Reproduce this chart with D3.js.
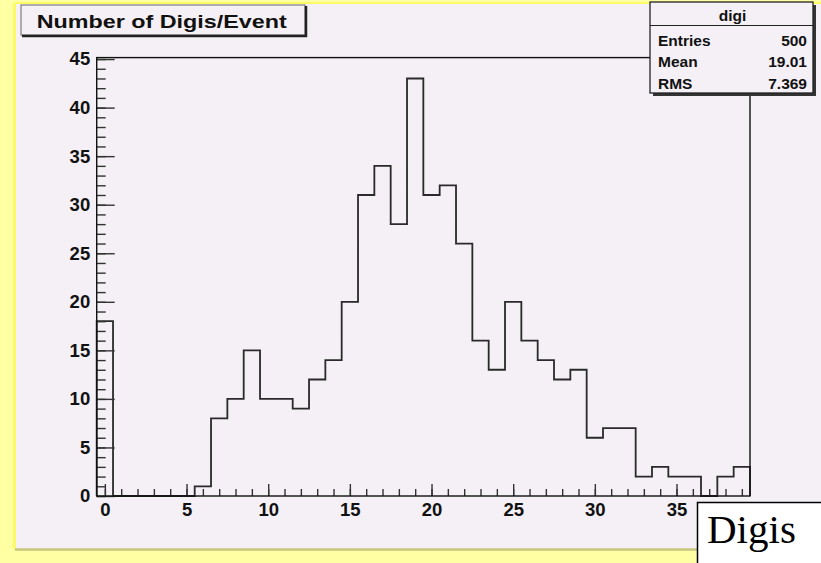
<!DOCTYPE html>
<html>
<head>
<meta charset="utf-8">
<script src="https://cdn.jsdelivr.net/npm/d3@7"></script>
<style>
  body { margin: 0; background: #ffffa4; }
</style>
</head>
<body>
<svg id="chart" width="821" height="563"></svg>
<script>
// Histogram "digi": number of digis per event, 40 unit-wide bins centred on 0..39
const binCenters = d3.range(0, 40);
const counts = [18, 0, 0, 0, 0, 0, 1, 8, 10, 15,
                10, 10, 9, 12, 14, 20, 31, 34, 28, 43,
                31, 32, 26, 16, 13, 20, 16, 14, 12, 13,
                6, 7, 7, 2, 3, 2, 2, 0, 2, 3];
const xMajorTicks = [0, 5, 10, 15, 20, 25, 30, 35];
const yMajorTicks = [0, 5, 10, 15, 20, 25, 30, 35, 40, 45];
const histName = "digi";
const titleText = "Number of Digis/Event";
const xAxisTitle = "Digis";
const statsLabels = ["Entries", "Mean", "RMS"];
const statsValues = ["500", "19.01", "7.369"];

const W = 821, H = 563;
const padFill = "#f4f0f5";
const sans = "'Liberation Sans', Arial, Helvetica, sans-serif";
const serif = "'Liberation Serif', 'Times New Roman', serif";
const svg = d3.select("#chart");

// canvas and pad
svg.append("rect").attr("width", W).attr("height", H).attr("fill", "#ffffa4");
svg.append("rect").attr("x", 15).attr("y", 3).attr("width", W).attr("height", 546)
  .attr("fill", padFill);
svg.append("line").attr("x1", 14.5).attr("x2", 14.5).attr("y1", 3).attr("y2", 549)
  .attr("stroke", "#fbfb66").attr("stroke-width", 3);
svg.append("line").attr("x1", 15).attr("x2", W).attr("y1", 3).attr("y2", 3)
  .attr("stroke", "#fbfb66").attr("stroke-width", 2);
svg.append("line").attr("x1", 15).attr("x2", W).attr("y1", 549.5).attr("y2", 549.5)
  .attr("stroke", "#c8c67c").attr("stroke-width", 2.5);

// frame
const frame = { left: 96.7, right: 750, top: 57.6, bottom: 496 };
const halfBin = 0.5;
const x = d3.scaleLinear()
  .domain([binCenters[0] - halfBin, binCenters[binCenters.length - 1] + halfBin])
  .range([frame.left, frame.right]);
const y = d3.scaleLinear()
  .domain([0, d3.max(counts) * 1.05])
  .range([frame.bottom, frame.top]);

// histogram outline
const pts = [[binCenters[0] - halfBin, 0]];
binCenters.forEach((c, i) => {
  pts.push([c - halfBin, counts[i]]);
  pts.push([c + halfBin, counts[i]]);
});
pts.push([binCenters[binCenters.length - 1] + halfBin, 0]);
svg.append("path")
  .attr("d", d3.line().x(d => x(d[0])).y(d => y(d[1]))(pts))
  .attr("fill", "none").attr("stroke", "#2a2a2a").attr("stroke-width", 1.8);

// axes
const tickFont = g => g.selectAll("text")
  .attr("font-size", 18.5).attr("font-weight", "bold").attr("fill", "#111")
  .attr("font-family", sans);
const cleanAxis = g => { g.select(".domain").remove(); g.selectAll("line").attr("stroke", "#333").attr("stroke-width", 1.4); };

svg.append("g").attr("transform", `translate(0,${frame.bottom})`)
  .call(d3.axisBottom(x).tickValues(binCenters).tickSize(-7).tickFormat(""))
  .call(cleanAxis);
svg.append("g").attr("transform", `translate(0,${frame.bottom})`)
  .call(d3.axisBottom(x).tickValues(xMajorTicks).tickSize(-12).tickPadding(7).tickFormat(d3.format("d")))
  .call(cleanAxis).call(tickFont);

svg.append("g").attr("transform", `translate(${frame.left},0)`)
  .call(d3.axisLeft(y).tickValues(d3.range(0, 46)).tickSize(-9).tickFormat(""))
  .call(cleanAxis);
svg.append("g").attr("transform", `translate(${frame.left},0)`)
  .call(d3.axisLeft(y).tickValues(yMajorTicks).tickSize(-18).tickPadding(6.5).tickFormat(d3.format("d")))
  .call(cleanAxis).call(tickFont);

svg.append("rect")
  .attr("x", frame.left).attr("y", frame.top)
  .attr("width", frame.right - frame.left).attr("height", frame.bottom - frame.top)
  .attr("fill", "none").attr("stroke", "#111").attr("stroke-width", 1.4);

// title box
svg.append("rect").attr("x", 21).attr("y", 5).attr("width", 284).attr("height", 30)
  .attr("fill", padFill).attr("stroke", "#666").attr("stroke-width", 1);
svg.append("polyline").attr("points", "306,6 306,36 22,36")
  .attr("fill", "none").attr("stroke", "#222").attr("stroke-width", 2.5);
svg.append("text").attr("x", 36.7).attr("y", 27.5)
  .attr("font-family", sans).attr("font-size", 19).attr("font-weight", "bold").attr("fill", "#111")
  .attr("textLength", 250).attr("lengthAdjust", "spacingAndGlyphs")
  .text(titleText);

// statistics box
const sb = { x: 650, y: 2, w: 163, h: 91 };
svg.append("rect").attr("x", sb.x + 3).attr("y", sb.y + 3).attr("width", sb.w).attr("height", sb.h)
  .attr("fill", "#333");
svg.append("rect").attr("x", sb.x).attr("y", sb.y).attr("width", sb.w).attr("height", sb.h)
  .attr("fill", padFill).attr("stroke", "#222").attr("stroke-width", 1.3);
svg.append("line").attr("x1", sb.x).attr("x2", sb.x + sb.w).attr("y1", 25.5).attr("y2", 25.5)
  .attr("stroke", "#222").attr("stroke-width", 1.2);
svg.append("text").attr("x", sb.x + sb.w / 2 + 1).attr("y", 21).attr("text-anchor", "middle")
  .attr("font-family", sans).attr("font-size", 15.5).attr("font-weight", "bold").attr("fill", "#111")
  .text(histName);
const rowBase = [45.5, 67, 89];
statsLabels.forEach((lab, i) => {
  svg.append("text").attr("x", 658).attr("y", rowBase[i])
    .attr("font-family", sans).attr("font-size", 15.5).attr("font-weight", "bold").attr("fill", "#111")
    .text(lab);
  svg.append("text").attr("x", 807).attr("y", rowBase[i]).attr("text-anchor", "end")
    .attr("font-family", sans).attr("font-size", 15.5).attr("font-weight", "bold").attr("fill", "#111")
    .text(statsValues[i]);
});

// x-axis title box
svg.append("rect").attr("x", 697.5).attr("y", 502.5).attr("width", 140).attr("height", 80)
  .attr("fill", "#fff").attr("stroke", "#000").attr("stroke-width", 1.5);
svg.append("text").attr("x", 707).attr("y", 543)
  .attr("font-family", serif).attr("font-size", 41).attr("fill", "#000")
  .text(xAxisTitle);
</script>
</body>
</html>
